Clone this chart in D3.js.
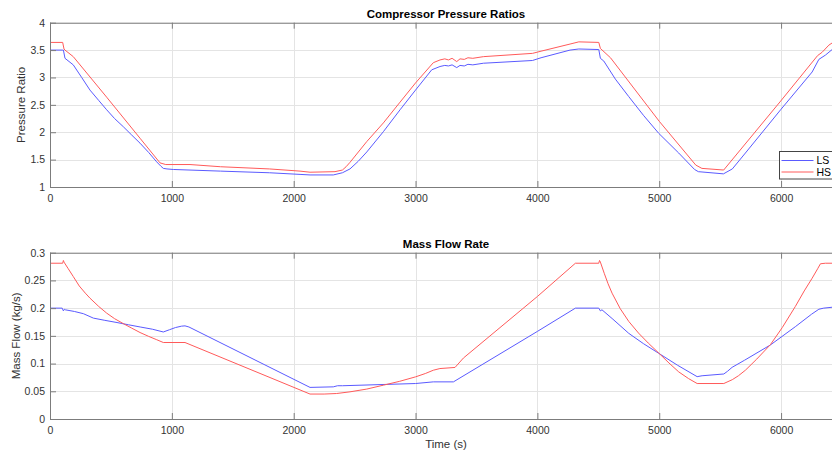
<!DOCTYPE html>
<html>
<head>
<meta charset="utf-8">
<script src="https://cdn.jsdelivr.net/npm/d3@7"></script>
<style>
  html, body { margin: 0; padding: 0; background: #fff; }
  svg { display: block; font-family: "Liberation Sans", Arial, Helvetica, sans-serif; }
</style>
</head>
<body>
<svg id="fig" width="832" height="454"></svg>
<script>
// Compressor pressure ratio, low-stage (LS) and high-stage (HS)
const prTimeLS = [0, 100, 110, 123, 191, 260, 328, 400, 465, 530, 602, 670, 739, 810, 875, 910, 930, 960, 1012, 1400, 1800, 2052, 2134, 2325, 2400, 2462, 2530, 2600, 2736, 2873, 3000, 3133, 3201, 3240, 3270, 3300, 3338, 3365, 3400, 3430, 3470, 3557, 3960, 4030, 4268, 4340, 4504, 4517, 4545, 4640, 4750, 4870, 4996, 5160, 5290, 5321, 5527, 5600, 5707, 6000, 6255, 6310, 6365, 6419, 6500];
const prLS     = [3.50, 3.50, 3.50, 3.35, 3.23, 3.00, 2.77, 2.58, 2.41, 2.25, 2.10, 1.95, 1.80, 1.63, 1.46, 1.38, 1.34, 1.33, 1.32, 1.29, 1.26, 1.23, 1.22, 1.22, 1.26, 1.33, 1.47, 1.64, 2.01, 2.41, 2.77, 3.14, 3.20, 3.22, 3.21, 3.23, 3.18, 3.22, 3.21, 3.24, 3.23, 3.26, 3.31, 3.36, 3.50, 3.52, 3.51, 3.35, 3.30, 2.97, 2.65, 2.31, 1.98, 1.62, 1.32, 1.28, 1.24, 1.33, 1.62, 2.42, 3.10, 3.33, 3.41, 3.51, 3.53];

const prTimeHS = [0, 104, 115, 123, 191, 465, 739, 903, 950, 1149, 1400, 1800, 2052, 2134, 2339, 2400, 2430, 2462, 2600, 2736, 2873, 3000, 3146, 3201, 3240, 3270, 3300, 3338, 3365, 3400, 3430, 3470, 3557, 3960, 4030, 4268, 4340, 4504, 4517, 4600, 5000, 5300, 5350, 5529, 5997, 6300, 6337, 6392, 6419, 6500];
const prHS     = [3.64, 3.64, 3.52, 3.50, 3.38, 2.64, 1.89, 1.44, 1.41, 1.41, 1.37, 1.33, 1.29, 1.27, 1.28, 1.31, 1.37, 1.45, 1.83, 2.17, 2.55, 2.90, 3.27, 3.32, 3.34, 3.32, 3.35, 3.29, 3.34, 3.33, 3.36, 3.35, 3.38, 3.44, 3.48, 3.61, 3.65, 3.64, 3.53, 3.36, 2.20, 1.40, 1.34, 1.31, 2.57, 3.40, 3.46, 3.59, 3.63, 3.64];

// Mass flow rate (kg/s)
const mfTimeLS = [0, 100, 110, 118, 125, 200, 274, 356, 450, 550, 643, 740, 840, 930, 980, 1030, 1080, 1108, 1140, 2134, 2325, 2360, 2400, 3000, 3146, 3311, 4000, 4312, 4504, 4517, 4530, 4620, 4750, 4870, 4996, 5150, 5311, 5352, 5530, 5560, 5598, 5700, 5912, 6117, 6250, 6310, 6350, 6419, 6500];
const mfLS     = [0.200, 0.200, 0.195, 0.198, 0.197, 0.194, 0.190, 0.182, 0.178, 0.174, 0.170, 0.166, 0.162, 0.157, 0.161, 0.165, 0.1675, 0.168, 0.166, 0.057, 0.058, 0.060, 0.060, 0.064, 0.067, 0.067, 0.158, 0.200, 0.200, 0.195, 0.197, 0.180, 0.1545, 0.136, 0.1185, 0.097, 0.0764, 0.078, 0.0812, 0.086, 0.0932, 0.106, 0.1335, 0.1665, 0.189, 0.198, 0.200, 0.2016, 0.202];

const mfTimeHS = [0, 104, 110, 115, 150, 191, 240, 290, 328, 400, 465, 530, 602, 670, 739, 810, 876, 930, 1108, 2134, 2250, 2353, 2462, 2600, 2736, 2870, 3000, 3080, 3146, 3200, 3324, 3393, 4000, 4312, 4504, 4510, 4517, 4550, 4580, 4613, 4680, 4750, 4830, 4910, 4996, 5080, 5160, 5240, 5311, 5530, 5600, 5650, 5707, 5800, 5912, 6010, 6117, 6190, 6255, 6300, 6323, 6364, 6419, 6500];
const mfHS     = [0.281, 0.281, 0.286, 0.283, 0.271, 0.257, 0.240, 0.227, 0.218, 0.203, 0.191, 0.181, 0.172, 0.164, 0.156, 0.149, 0.143, 0.138, 0.138, 0.045, 0.045, 0.046, 0.049, 0.054, 0.061, 0.068, 0.076, 0.082, 0.088, 0.091, 0.093, 0.110, 0.221, 0.281, 0.281, 0.286, 0.283, 0.262, 0.244, 0.227, 0.199, 0.176, 0.155, 0.137, 0.119, 0.101, 0.085, 0.073, 0.064, 0.064, 0.071, 0.078, 0.088, 0.108, 0.134, 0.165, 0.203, 0.231, 0.254, 0.271, 0.280, 0.281, 0.281, 0.281];

// Tick labels
const timeTicks = [0, 1000, 2000, 3000, 4000, 5000, 6000];
const prTicks = [1, 1.5, 2, 2.5, 3, 3.5, 4];
const mfTicks = [0, 0.05, 0.1, 0.15, 0.2, 0.25, 0.3];
const seriesNames = ["LS", "HS"];
const seriesColors = ["#5a5aff", "#ff5a5a"];

const svg = d3.select("#fig");
const axisColor = "#7c7c7c";
const gridColor = "#e4e4e4";
const textColor = "#333";

const x = d3.scaleLinear().domain([0, 6500]).range([50, 842]);

function panel(cfg) {
  const y = d3.scaleLinear().domain(cfg.yDomain).range([cfg.bottom, cfg.top]);
  const g = svg.append("g");
  const clipId = cfg.id + "-clip";
  g.append("clipPath").attr("id", clipId)
    .append("rect").attr("x", x.range()[0]).attr("y", cfg.top)
    .attr("width", x.range()[1] - x.range()[0]).attr("height", cfg.bottom - cfg.top);

  // grid
  const grid = g.append("g");
  grid.selectAll(".gx").data(timeTicks).join("line")
    .attr("x1", d => Math.round(x(d)) + 0.5).attr("x2", d => Math.round(x(d)) + 0.5)
    .attr("y1", cfg.top).attr("y2", cfg.bottom)
    .attr("stroke", gridColor).attr("stroke-width", 1);
  grid.selectAll(".gy").data(cfg.yTicks).join("line")
    .attr("x1", x.range()[0]).attr("x2", x.range()[1])
    .attr("y1", d => Math.round(y(d)) + 0.5).attr("y2", d => Math.round(y(d)) + 0.5)
    .attr("stroke", gridColor).attr("stroke-width", 1);

  // data lines
  const line = d3.line().x(d => x(d[0])).y(d => y(d[1]));
  const lines = g.append("g").attr("clip-path", `url(#${clipId})`);
  cfg.series.forEach((s, i) => {
    const pts = s.t.map((t, k) => [t, s.v[k]]);
    lines.append("path").datum(pts)
      .attr("d", line).attr("fill", "none")
      .attr("stroke", seriesColors[i]).attr("stroke-width", 1)
      .attr("stroke-linejoin", "round");
  });

  // axes with inward ticks
  const xAx = g.append("g").attr("transform", `translate(0,${cfg.bottom})`)
    .call(d3.axisBottom(x).tickValues(timeTicks).tickFormat(d => String(d))
      .tickSizeInner(-6).tickSizeOuter(0).tickPadding(8));
  const xTop = g.append("g").attr("transform", `translate(0,${cfg.top})`)
    .call(d3.axisTop(x).tickValues(timeTicks).tickFormat("")
      .tickSizeInner(-6).tickSizeOuter(0));
  const yAx = g.append("g").attr("transform", `translate(${x.range()[0]},0)`)
    .call(d3.axisLeft(y).tickValues(cfg.yTicks).tickFormat(d => String(d))
      .tickSizeInner(-6).tickSizeOuter(0).tickPadding(5));
  [xAx, xTop, yAx].forEach(a => {
    a.select(".domain").remove();
    a.selectAll("line").attr("stroke", axisColor);
    a.selectAll("text").attr("fill", textColor).style("font-size", "10.5px")
      .style("font-family", '"Liberation Sans", Arial, sans-serif');
  });

  // box
  g.append("rect")
    .attr("x", x.range()[0] + 0.5).attr("y", cfg.top + 0.5)
    .attr("width", x.range()[1] - x.range()[0]).attr("height", cfg.bottom - cfg.top)
    .attr("fill", "none").attr("stroke", axisColor).attr("stroke-width", 1);

  // title and labels
  g.append("text").attr("x", 446).attr("y", cfg.titleY)
    .attr("text-anchor", "middle").attr("font-weight", "bold")
    .style("font-size", "11.5px").attr("fill", "#000").text(cfg.title);
  g.append("text")
    .attr("transform", `translate(${cfg.ylabelX},${(cfg.top + cfg.bottom) / 2}) rotate(-90)`)
    .attr("text-anchor", "middle").attr("dy", "0.35em")
    .style("font-size", "11.5px").attr("fill", textColor).text(cfg.ylabel);
  return { g, y };
}

const prPanel = panel({
  id: "pr", top: 22.7, bottom: 187, yDomain: [1, 4], yTicks: prTicks,
  title: "Compressor Pressure Ratios", titleY: 18, ylabel: "Pressure Ratio", ylabelX: 21,
  series: [{ t: prTimeLS, v: prLS }, { t: prTimeHS, v: prHS }]
});

const mfPanel = panel({
  id: "mf", top: 252.7, bottom: 419, yDomain: [0, 0.3], yTicks: mfTicks,
  title: "Mass Flow Rate", titleY: 248, ylabel: "Mass Flow (kg/s)", ylabelX: 16,
  series: [{ t: mfTimeLS, v: mfLS }, { t: mfTimeHS, v: mfHS }]
});

// x-axis label
svg.append("text").attr("x", 446).attr("y", 448)
  .attr("text-anchor", "middle").style("font-size", "11.5px")
  .attr("fill", textColor).text("Time (s)");

// legend in the pressure panel
const leg = svg.append("g").attr("transform", "translate(779.5,151.5)");
leg.append("rect").attr("width", 70).attr("height", 27.5)
  .attr("fill", "#fff").attr("stroke", "#444").attr("stroke-width", 1);
seriesNames.forEach((name, i) => {
  const yy = 9 + i * 11.5;
  leg.append("line").attr("x1", 2).attr("x2", 34).attr("y1", yy).attr("y2", yy)
    .attr("stroke", seriesColors[i]).attr("stroke-width", 1);
  leg.append("text").attr("x", 37).attr("y", yy).attr("dy", "0.35em")
    .style("font-size", "10.5px").attr("fill", "#000").text(name);
});
</script>
</body>
</html>
